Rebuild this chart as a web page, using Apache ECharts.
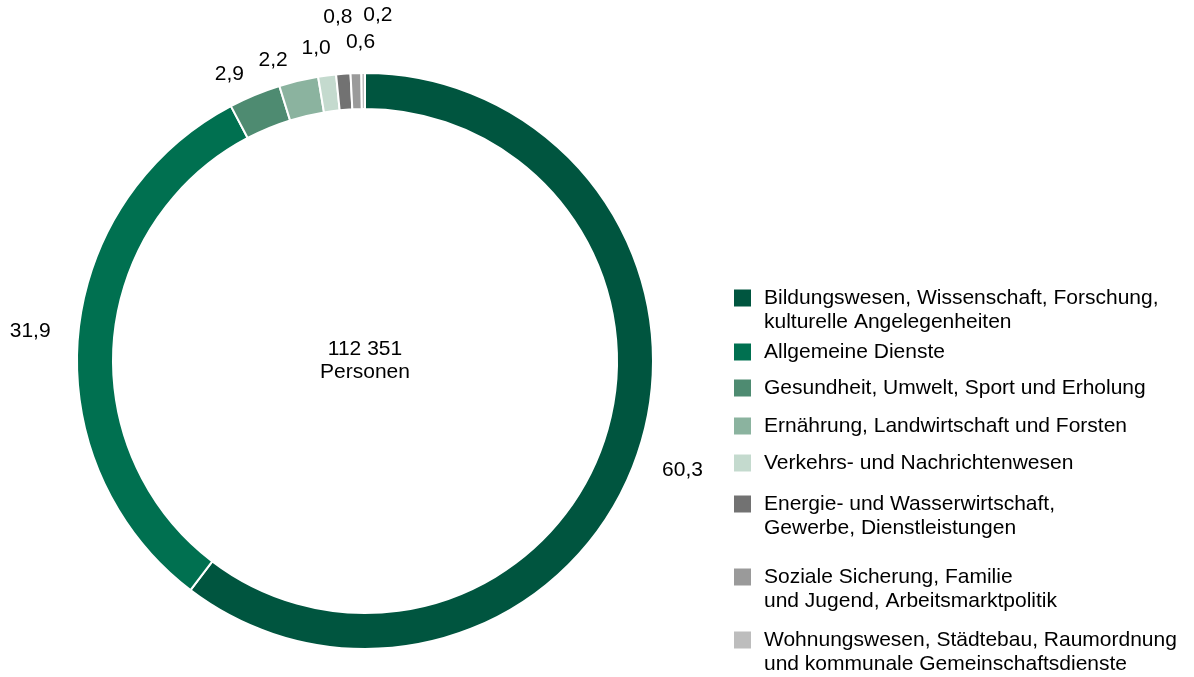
<!DOCTYPE html>
<html lang="de">
<head>
<meta charset="utf-8">
<title>Personal nach Aufgabenbereichen</title>
<script src="https://cdn.jsdelivr.net/npm/echarts@6/dist/echarts.min.js"></script>
<style>
  html, body { margin: 0; padding: 0; background: #fff; }
  #chart { width: 1194px; height: 677px; }
</style>
</head>
<body>
<div id="chart"></div>
<script>
// Aufgabenbereiche (Zeilenumbrüche wie in der Legende)
const categories = [
  'Bildungswesen, Wissenschaft, Forschung,\nkulturelle Angelegenheiten',
  'Allgemeine Dienste',
  'Gesundheit, Umwelt, Sport und Erholung',
  'Ernährung, Landwirtschaft und Forsten',
  'Verkehrs- und Nachrichtenwesen',
  'Energie- und Wasserwirtschaft,\nGewerbe, Dienstleistungen',
  'Soziale Sicherung, Familie\nund Jugend, Arbeitsmarktpolitik',
  'Wohnungswesen, Städtebau, Raumordnung\nund kommunale Gemeinschaftsdienste'
]
// Anteile in %
const shares = [60.3, 31.9, 2.9, 2.2, 1.0, 0.8, 0.6, 0.2]
const colors = ['#00553F', '#007050', '#4E8B71', '#8BB39F', '#C4DACE', '#727272', '#9A9A9A', '#BDBDBD']
// Text in der Mitte
const totalPersons = '112 351'
const totalUnit = 'Personen'

// Layout
const FONT = '"Liberation Sans", Arial, sans-serif'
const FONT_SIZE = 21
const CENTER = [365, 361]
const RADIUS = [252, 288]
const LABEL_DIST = 333
// kleine Verschiebungen der Beschriftungen, damit sie sich nicht überlappen
const LABEL_NUDGE = [[2, 3], [-3, -2], [-8, 21], [-15, 23], [-5, 17], [-2, -12], [6, 14], [15, -13]]
const LEGEND_X = 732
const LEGEND_Y = [298, 352, 388, 426, 463, 504, 577, 640]
const LINE_H = 24

const total = shares.reduce((a, b) => a + b, 0)

// Mittelwinkel eines Segments, im Uhrzeigersinn ab 12 Uhr
function midAngle(i) {
  let before = 0
  for (let k = 0; k < i; k++) before += shares[k]
  return (before + shares[i] / 2) / total * 2 * Math.PI
}

function fmt(v) {
  return v.toFixed(1).replace('.', ',')
}

const chart = echarts.init(document.getElementById('chart'))

// eine Legende je Eintrag, da die Abstände ungleich sind
const legends = categories.map((name, i) => {
  const lines = name.split('\n').length
  return {
    data: [name],
    left: LEGEND_X,
    top: LEGEND_Y[i] - (lines > 1 ? 1.5 * LINE_H : LINE_H / 2),
    padding: 0,
    icon: 'rect',
    itemWidth: 19,
    itemHeight: 19,
    selectedMode: false,
    // Leerzeile davor, damit das Kästchen auf Höhe der ersten Zeile steht
    formatter: n => (n.indexOf('\n') >= 0 ? ' \n' + n : n),
    textStyle: {
      fontFamily: FONT,
      fontSize: FONT_SIZE,
      color: '#000',
      lineHeight: LINE_H,
      padding: [0, 0, 0, 7]
    }
  }
})

const option = {
  animation: false,
  backgroundColor: '#fff',
  legend: legends,
  graphic: [
    {
      type: 'text',
      x: CENTER[0],
      y: CENTER[1],
      style: {
        text: totalPersons + '\n' + totalUnit,
        align: 'center',
        verticalAlign: 'middle',
        fontFamily: FONT,
        fontSize: FONT_SIZE,
        lineHeight: 23,
        fill: '#000'
      }
    }
  ],
  series: [
    {
      type: 'pie',
      center: CENTER,
      radius: RADIUS,
      startAngle: 90,
      clockwise: true,
      avoidLabelOverlap: false,
      itemStyle: { borderColor: '#fff', borderWidth: 2 },
      label: {
        show: true,
        position: 'outside',
        formatter: p => fmt(p.value),
        fontFamily: FONT,
        fontSize: FONT_SIZE,
        color: '#000'
      },
      labelLine: { show: false },
      labelLayout: params => {
        const i = params.dataIndex
        const a = midAngle(i)
        return {
          x: CENTER[0] + Math.sin(a) * LABEL_DIST + LABEL_NUDGE[i][0],
          y: CENTER[1] - Math.cos(a) * LABEL_DIST + LABEL_NUDGE[i][1],
          align: 'center',
          verticalAlign: 'middle'
        }
      },
      emphasis: { disabled: true },
      data: categories.map((name, i) => ({
        name,
        value: shares[i],
        itemStyle: { color: colors[i] }
      }))
    }
  ]
}

chart.setOption(option)
</script>
</body>
</html>
